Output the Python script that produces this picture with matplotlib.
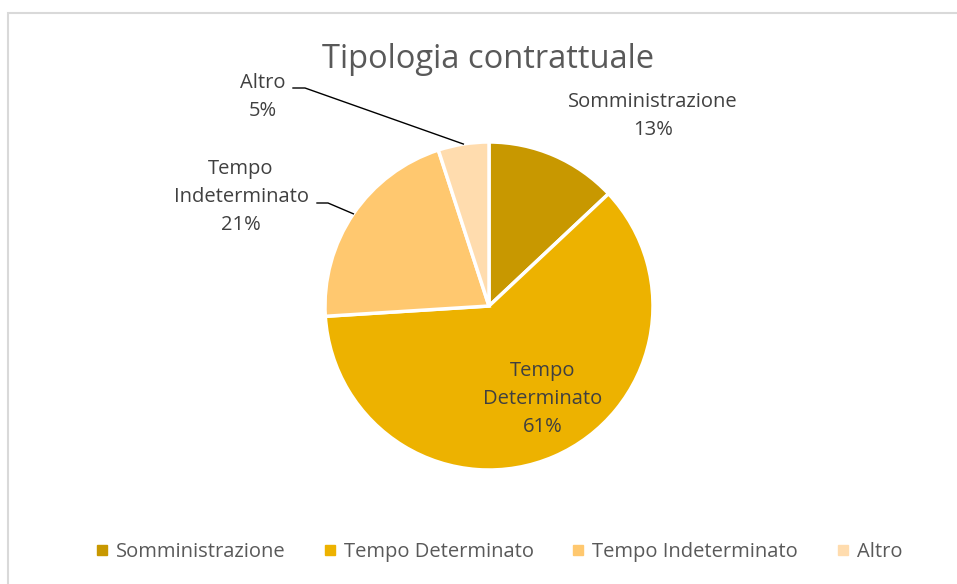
import matplotlib.pyplot as plt
import numpy as np
from matplotlib.lines import Line2D
from matplotlib.patches import Rectangle

plt.rcParams['font.family'] = ['Open Sans', 'DejaVu Sans']

# dati
categorie = ["Somministrazione", "Tempo Determinato", "Tempo Indeterminato", "Altro"]
valori = [13, 61, 21, 5]
etichette = ["Somministrazione", "Tempo\nDeterminato", "Tempo\nIndeterminato", "Altro"]
colori = ["#C89800", "#EDB200", "#FFC86F", "#FFDCAE"]

W, H = 957, 584
grigio = "#595959"

fig = plt.figure(figsize=(W / 100, H / 100), dpi=100)
ax = fig.add_axes([0, 0, 1, 1])

# cornice grigia
fig.patches.append(Rectangle((8 / W, -0.1), 1.2, 1.1 - 13 / H, transform=fig.transFigure,
                             fill=False, edgecolor="#D9D9D9", linewidth=1.5))

cx, cy, r = 489, H - 306, 164
wedges, _ = ax.pie(valori, colors=colori, startangle=90, counterclock=False,
                   center=(cx, cy), radius=r, frame=True,
                   wedgeprops=dict(edgecolor='white', linewidth=2.5))
ax.set_xlim(0, W)
ax.set_ylim(0, H)
ax.set_aspect('equal')
ax.axis('off')

tot = sum(valori)
perc = [f"{round(v / tot * 100)}%" for v in valori]

# posizioni etichette (pixel immagine)
pos_lab = [(653, 116), (543, 399), (241, 197), (263, 97)]
fs = 14.5
for i, (x, y) in enumerate(pos_lab):
    ax.text(x, H - y, etichette[i] + "\n" + perc[i], ha='center', va='center',
            fontsize=fs, color="#404040", linespacing=1.55)

# linee guida per Altro e Tempo Indeterminato
def punto_bordo(i):
    start = 90 - sum(valori[:i]) / tot * 360
    mid = start - valori[i] / tot * 360 / 2
    a = np.deg2rad(mid)
    return cx + r * np.cos(a), cy + r * np.sin(a)

px, py = punto_bordo(3)
ax.plot([293, 305, px], [H - 88, H - 88, py], color='black', linewidth=1)
px, py = punto_bordo(2)
ax.plot([317, 328, px], [H - 203, H - 203, py], color='black', linewidth=1)

ax.text(488, H - 60, "Tipologia contrattuale", ha='center', va='center',
        fontsize=23.5, color=grigio)

handles = [Line2D([0], [0], marker='s', linestyle='none', markersize=7,
                  markerfacecolor=c, markeredgecolor=c) for c in colori]
fig.legend(handles, categorie, loc='center', bbox_to_anchor=(497 / W, 1 - 552 / H),
           ncol=4, frameon=False, fontsize=fs, labelcolor=grigio,
           handletextpad=0.2, columnspacing=1.7, handlelength=1.0)

fig.savefig("out.png", dpi=100)
